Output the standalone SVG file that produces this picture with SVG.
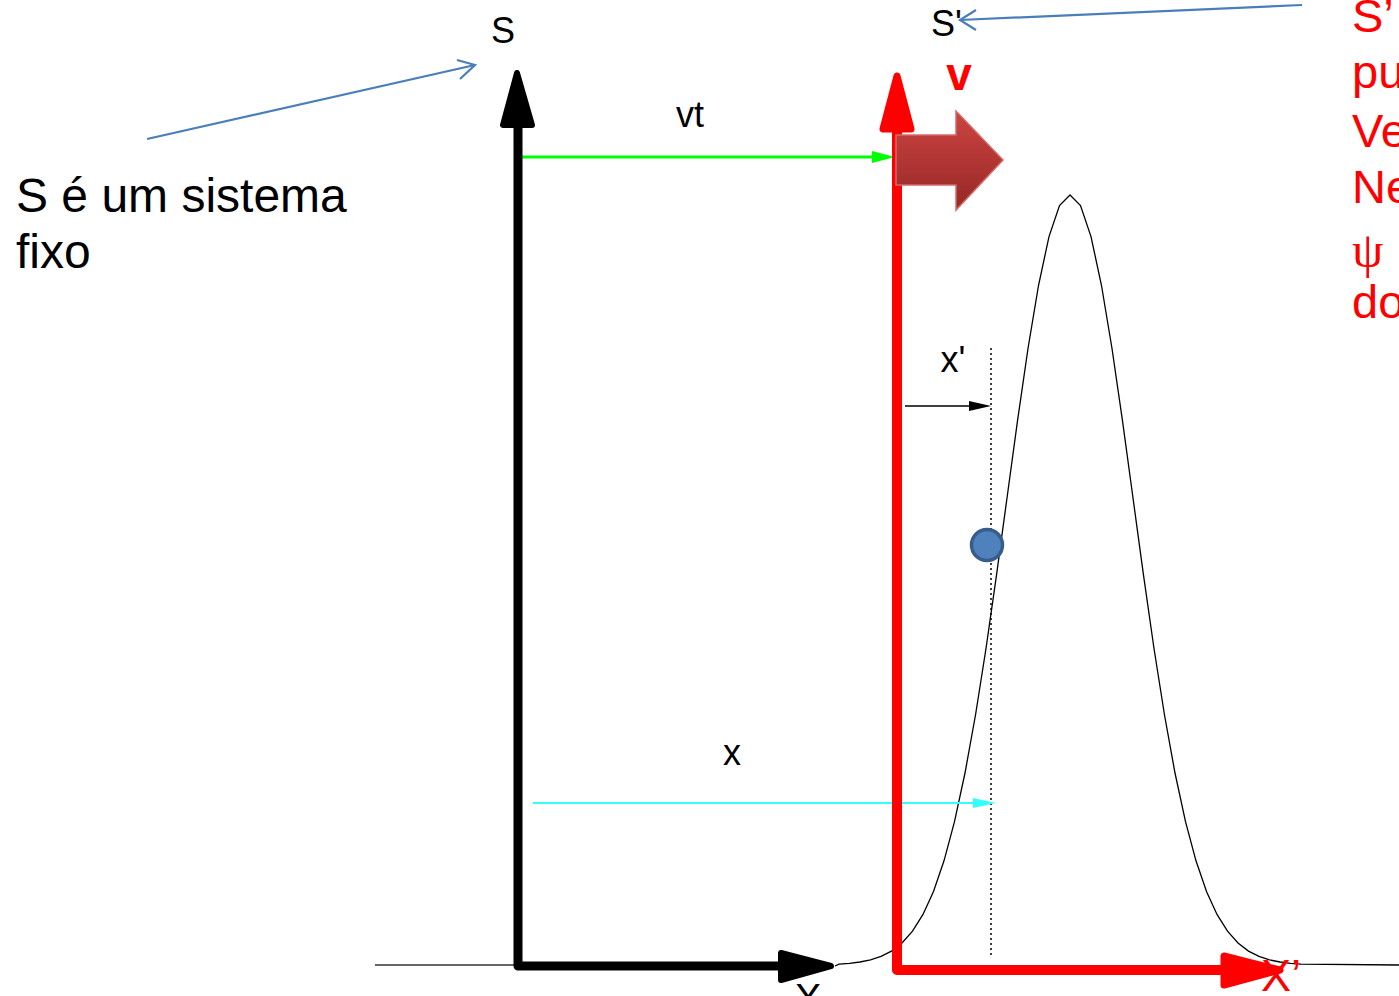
<svg xmlns="http://www.w3.org/2000/svg" width="1399" height="996" viewBox="0 0 1399 996">
<defs>
<style>
text{font-family:"Liberation Sans",Arial,sans-serif;}
.lbl{font-size:36px;fill:#000;}
.big{font-size:48px;fill:#000;}
.red{font-size:47px;fill:#ff0000;}
.ann{stroke:#4a7ebb;stroke-width:2.2;fill:none;}
</style>
<linearGradient id="blk" x1="0" y1="0" x2="0" y2="1">
<stop offset="0" stop-color="#cc4442"/>
<stop offset="1" stop-color="#962826"/>
</linearGradient>
</defs>
<rect width="1399" height="996" fill="#fff"/>

<g id="curve">
<line x1="375" y1="965" x2="518" y2="965" stroke="#333" stroke-width="1.5"/>
<polyline fill="none" stroke="#000" stroke-width="1.3" points="835,966 839,964.1 849.5,963.3 860,962 870.5,959.9 881,956.4 891.5,951.1 902,943 912.5,931.2 923,914.4 933.5,891.4 944,860.8 954.5,821.6 965,773 975.5,715 986,648.5 996.5,575.1 1007,498 1017.5,420.9 1028,348.5 1038.5,285.5 1049,236.6 1059.5,205.6 1070,195 1080.5,205.6 1091,236.6 1101.5,285.5 1112,348.5 1122.5,420.9 1133,498 1143.5,575.1 1154,648.5 1164.5,715 1175,773 1185.5,821.6 1196,860.8 1206.5,891.4 1217,914.4 1227.5,931.2 1238,943 1248.5,951.1 1259,956.4 1269.5,959.9 1280,962 1290.5,963.3 1301,964.1 1399,965"/>
</g>

<g id="connectors">
<line id="dotted" x1="991" y1="348" x2="991" y2="958" stroke="#000" stroke-width="1.5" stroke-dasharray="2,3"/>
<line x1="520" y1="157" x2="876" y2="157" stroke="#00ff00" stroke-width="3"/>
<polygon points="872,151 895,157 872,163" fill="#00ff00"/>
<line x1="533" y1="803" x2="976" y2="803" stroke="#33ffff" stroke-width="2"/>
<polygon points="973,798 996,803 973,808" fill="#33ffff"/>
<line x1="905" y1="406" x2="972" y2="406" stroke="#000" stroke-width="1.5"/>
<polygon points="969,401 991,406 969,411" fill="#000"/>
<line class="ann" x1="147" y1="139" x2="475" y2="65"/>
<polyline class="ann" points="457,60 475,65 460,79"/>
<line class="ann" x1="1302" y1="5" x2="960" y2="20"/>
<polyline class="ann" points="976,10 960,20 976,30"/>
</g>

<g id="axis-S">
<polyline points="518,126 518,966 780,966" fill="none" stroke="#000" stroke-width="9" stroke-linejoin="round"/>
<polygon points="517,73 503,125 532,125" fill="#000" stroke="#000" stroke-width="6" stroke-linejoin="round"/>
<polygon points="781,953 781,980 831,966" fill="#000" stroke="#000" stroke-width="6" stroke-linejoin="round"/>
</g>

<g id="axis-S2">
<polyline points="897,130 897,970 1225,970" fill="none" stroke="#ff0000" stroke-width="10" stroke-linejoin="round"/>
<polygon points="897,76 883,129 911,129" fill="#ff0000" stroke="#ff0000" stroke-width="7" stroke-linejoin="round"/>
<polygon points="1224,956 1224,985 1280,970" fill="#ff0000" stroke="#ff0000" stroke-width="7" stroke-linejoin="round"/>
</g>

<g id="velocity-arrow">
<polygon points="896,135 956,135 956,111 1003,160 956,210 956,185 896,185" fill="url(#blk)" stroke="#d26a68" stroke-width="1.5"/>
</g>

<g id="particle">
<circle cx="987" cy="545" r="15.5" fill="#4f81bd" stroke="#385d8a" stroke-width="3.5"/>
</g>

<g id="labels">
<text class="lbl" x="503" y="43" text-anchor="middle">S</text>
<text class="lbl" x="931" y="36">S'</text>
<text x="959" y="90" text-anchor="middle" style="font-size:46px;font-weight:bold;fill:#ff0000">v</text>
<text class="lbl" x="690" y="127" text-anchor="middle">vt</text>
<text class="lbl" x="953" y="372" text-anchor="middle">x'</text>
<text class="lbl" x="732" y="765" text-anchor="middle">x</text>
<text x="808" y="1012" text-anchor="middle" style="font-size:40px;fill:#000">X</text>
<text x="1261" y="991" style="font-size:45px;fill:#ff0000">X’</text>
</g>

<g id="note-S">
<text class="big" x="16" y="212">S é um sistema</text>
<text class="big" x="16" y="268">fixo</text>
</g>

<g id="note-S2">
<text class="red" x="1352" y="32">S’</text>
<text class="red" x="1352" y="88">pu</text>
<text class="red" x="1352" y="147">Ve</text>
<text class="red" x="1352" y="203">Ne</text>
<text x="1352" y="267" style="font-family:'Liberation Serif','DejaVu Serif',serif;font-size:50px;fill:#ff0000">ψ</text>
<text class="red" x="1352" y="318">do</text>
</g>
</svg>
